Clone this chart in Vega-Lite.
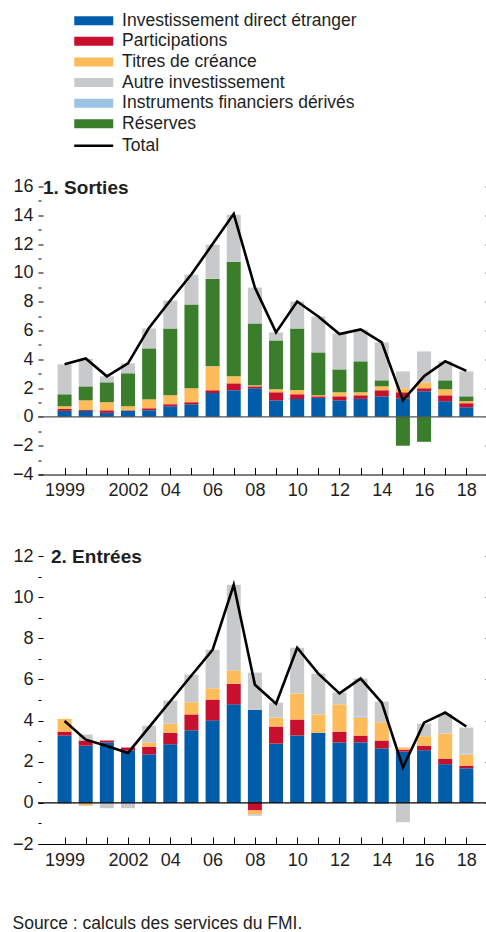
{
  "$schema": "https://vega.github.io/schema/vega-lite/v6.json",
  "padding": {"left": 12, "right": 0, "top": 11.5, "bottom": 0},
  "background": "white",
  "config": {
    "font": "Liberation Sans",
    "view": {"stroke": null},
    "axis": {"labelFont": "Liberation Sans", "labelFontSize": 18, "labelColor": "#1e1e1e", "tickColor": "black", "domainColor": "black", "grid": false},
    "legend": {"labelFont": "Liberation Sans", "labelFontSize": 17.5, "labelColor": "#1e1e1e", "labelLimit": 400, "padding": 0, "rowPadding": 1.6},
    "title": {"font": "Liberation Sans", "color": "#1e1e1e"}
  },
  "title": {"text": "Source : calculs des services du FMI.", "orient": "bottom", "anchor": "start", "frame": "bounds", "offset": 45.5, "fontSize": 17.5, "fontWeight": "normal"},
  "spacing": 47.5,
  "datasets": {
    "sortie": [
      {"year": 1999, "comp": "Investissement direct étranger", "value": 0.42},
      {"year": 1999, "comp": "Participations", "value": 0.13},
      {"year": 1999, "comp": "Titres de créance", "value": 0.19},
      {"year": 1999, "comp": "Réserves", "value": 0.83},
      {"year": 1999, "comp": "Autre investissement", "value": 2.08},
      {"year": 2000, "comp": "Investissement direct étranger", "value": 0.42},
      {"year": 2000, "comp": "Participations", "value": 0.06},
      {"year": 2000, "comp": "Titres de créance", "value": 0.67},
      {"year": 2000, "comp": "Réserves", "value": 0.97},
      {"year": 2000, "comp": "Autre investissement", "value": 1.91},
      {"year": 2001, "comp": "Investissement direct étranger", "value": 0.28},
      {"year": 2001, "comp": "Participations", "value": 0.18},
      {"year": 2001, "comp": "Titres de créance", "value": 0.56},
      {"year": 2001, "comp": "Réserves", "value": 1.38},
      {"year": 2001, "comp": "Autre investissement", "value": 0.42},
      {"year": 2002, "comp": "Investissement direct étranger", "value": 0.42},
      {"year": 2002, "comp": "Participations", "value": 0.04},
      {"year": 2002, "comp": "Titres de créance", "value": 0.28},
      {"year": 2002, "comp": "Réserves", "value": 2.29},
      {"year": 2002, "comp": "Autre investissement", "value": 0.69},
      {"year": 2003, "comp": "Investissement direct étranger", "value": 0.46},
      {"year": 2003, "comp": "Participations", "value": 0.14},
      {"year": 2003, "comp": "Titres de créance", "value": 0.62},
      {"year": 2003, "comp": "Réserves", "value": 3.54},
      {"year": 2003, "comp": "Autre investissement", "value": 1.38},
      {"year": 2004, "comp": "Investissement direct étranger", "value": 0.74},
      {"year": 2004, "comp": "Participations", "value": 0.14},
      {"year": 2004, "comp": "Titres de créance", "value": 0.62},
      {"year": 2004, "comp": "Réserves", "value": 4.64},
      {"year": 2004, "comp": "Autre investissement", "value": 1.94},
      {"year": 2005, "comp": "Investissement direct étranger", "value": 0.88},
      {"year": 2005, "comp": "Participations", "value": 0.14},
      {"year": 2005, "comp": "Titres de créance", "value": 0.97},
      {"year": 2005, "comp": "Réserves", "value": 5.82},
      {"year": 2005, "comp": "Autre investissement", "value": 2.07},
      {"year": 2006, "comp": "Investissement direct étranger", "value": 1.66},
      {"year": 2006, "comp": "Participations", "value": 0.19},
      {"year": 2006, "comp": "Titres de créance", "value": 1.66},
      {"year": 2006, "comp": "Réserves", "value": 6.09},
      {"year": 2006, "comp": "Autre investissement", "value": 2.36},
      {"year": 2007, "comp": "Investissement direct étranger", "value": 1.85},
      {"year": 2007, "comp": "Participations", "value": 0.48},
      {"year": 2007, "comp": "Titres de créance", "value": 0.49},
      {"year": 2007, "comp": "Réserves", "value": 7.96},
      {"year": 2007, "comp": "Autre investissement", "value": 3.26},
      {"year": 2008, "comp": "Investissement direct étranger", "value": 1.99},
      {"year": 2008, "comp": "Participations", "value": 0.13},
      {"year": 2008, "comp": "Titres de créance", "value": 0.07},
      {"year": 2008, "comp": "Réserves", "value": 4.3},
      {"year": 2008, "comp": "Autre investissement", "value": 2.49},
      {"year": 2009, "comp": "Investissement direct étranger", "value": 1.15},
      {"year": 2009, "comp": "Participations", "value": 0.56},
      {"year": 2009, "comp": "Titres de créance", "value": 0.21},
      {"year": 2009, "comp": "Réserves", "value": 3.39},
      {"year": 2009, "comp": "Autre investissement", "value": 0.56},
      {"year": 2010, "comp": "Investissement direct étranger", "value": 1.25},
      {"year": 2010, "comp": "Participations", "value": 0.32},
      {"year": 2010, "comp": "Titres de créance", "value": 0.3},
      {"year": 2010, "comp": "Réserves", "value": 4.27},
      {"year": 2010, "comp": "Autre investissement", "value": 1.87},
      {"year": 2011, "comp": "Investissement direct étranger", "value": 1.32},
      {"year": 2011, "comp": "Participations", "value": 0.11},
      {"year": 2011, "comp": "Titres de créance", "value": 0.07},
      {"year": 2011, "comp": "Réserves", "value": 2.98},
      {"year": 2011, "comp": "Autre investissement", "value": 2.49},
      {"year": 2012, "comp": "Investissement direct étranger", "value": 1.15},
      {"year": 2012, "comp": "Participations", "value": 0.28},
      {"year": 2012, "comp": "Titres de créance", "value": 0.28},
      {"year": 2012, "comp": "Réserves", "value": 1.59},
      {"year": 2012, "comp": "Autre investissement", "value": 2.5},
      {"year": 2013, "comp": "Investissement direct étranger", "value": 1.25},
      {"year": 2013, "comp": "Participations", "value": 0.25},
      {"year": 2013, "comp": "Titres de créance", "value": 0.21},
      {"year": 2013, "comp": "Réserves", "value": 2.15},
      {"year": 2013, "comp": "Autre investissement", "value": 2.21},
      {"year": 2014, "comp": "Investissement direct étranger", "value": 1.43},
      {"year": 2014, "comp": "Participations", "value": 0.42},
      {"year": 2014, "comp": "Titres de créance", "value": 0.27},
      {"year": 2014, "comp": "Réserves", "value": 0.42},
      {"year": 2014, "comp": "Autre investissement", "value": 2.63},
      {"year": 2015, "comp": "Investissement direct étranger", "value": 1.29},
      {"year": 2015, "comp": "Participations", "value": 0.42},
      {"year": 2015, "comp": "Titres de créance", "value": 0.28},
      {"year": 2015, "comp": "Réserves", "value": -2.0},
      {"year": 2015, "comp": "Autre investissement", "value": 1.17},
      {"year": 2016, "comp": "Investissement direct étranger", "value": 1.78},
      {"year": 2016, "comp": "Participations", "value": 0.21},
      {"year": 2016, "comp": "Titres de créance", "value": 0.41},
      {"year": 2016, "comp": "Réserves", "value": -1.73},
      {"year": 2016, "comp": "Autre investissement", "value": 2.15},
      {"year": 2017, "comp": "Investissement direct étranger", "value": 1.09},
      {"year": 2017, "comp": "Participations", "value": 0.41},
      {"year": 2017, "comp": "Titres de créance", "value": 0.42},
      {"year": 2017, "comp": "Réserves", "value": 0.62},
      {"year": 2017, "comp": "Autre investissement", "value": 1.32},
      {"year": 2018, "comp": "Investissement direct étranger", "value": 0.67},
      {"year": 2018, "comp": "Participations", "value": 0.28},
      {"year": 2018, "comp": "Titres de créance", "value": 0.14},
      {"year": 2018, "comp": "Réserves", "value": 0.34},
      {"year": 2018, "comp": "Autre investissement", "value": 1.73}
    ],
    "entree": [
      {"year": 1999, "comp": "Investissement direct étranger", "value": 3.27},
      {"year": 1999, "comp": "Participations", "value": 0.19},
      {"year": 1999, "comp": "Titres de créance", "value": 0.62},
      {"year": 1999, "comp": "Autre investissement", "value": -0.06},
      {"year": 2000, "comp": "Investissement direct étranger", "value": 2.78},
      {"year": 2000, "comp": "Participations", "value": 0.25},
      {"year": 2000, "comp": "Titres de créance", "value": -0.12},
      {"year": 2000, "comp": "Instruments financiers dérivés", "value": -0.03},
      {"year": 2000, "comp": "Autre investissement", "value": 0.29},
      {"year": 2001, "comp": "Investissement direct étranger", "value": 2.94},
      {"year": 2001, "comp": "Participations", "value": 0.09},
      {"year": 2001, "comp": "Autre investissement", "value": -0.26},
      {"year": 2002, "comp": "Investissement direct étranger", "value": 2.54},
      {"year": 2002, "comp": "Participations", "value": 0.15},
      {"year": 2002, "comp": "Instruments financiers dérivés", "value": -0.06},
      {"year": 2002, "comp": "Autre investissement", "value": -0.2},
      {"year": 2003, "comp": "Investissement direct étranger", "value": 2.36},
      {"year": 2003, "comp": "Participations", "value": 0.37},
      {"year": 2003, "comp": "Titres de créance", "value": 0.21},
      {"year": 2003, "comp": "Autre investissement", "value": 0.81},
      {"year": 2004, "comp": "Investissement direct étranger", "value": 2.85},
      {"year": 2004, "comp": "Participations", "value": 0.56},
      {"year": 2004, "comp": "Titres de créance", "value": 0.44},
      {"year": 2004, "comp": "Autre investissement", "value": 1.12},
      {"year": 2005, "comp": "Investissement direct étranger", "value": 3.53},
      {"year": 2005, "comp": "Participations", "value": 0.77},
      {"year": 2005, "comp": "Titres de créance", "value": 0.59},
      {"year": 2005, "comp": "Autre investissement", "value": 1.34},
      {"year": 2006, "comp": "Investissement direct étranger", "value": 4.01},
      {"year": 2006, "comp": "Participations", "value": 1.01},
      {"year": 2006, "comp": "Titres de créance", "value": 0.55},
      {"year": 2006, "comp": "Autre investissement", "value": 1.87},
      {"year": 2007, "comp": "Investissement direct étranger", "value": 4.79},
      {"year": 2007, "comp": "Participations", "value": 1.0},
      {"year": 2007, "comp": "Titres de créance", "value": 0.65},
      {"year": 2007, "comp": "Autre investissement", "value": 4.16},
      {"year": 2008, "comp": "Investissement direct étranger", "value": 4.53},
      {"year": 2008, "comp": "Participations", "value": -0.37},
      {"year": 2008, "comp": "Titres de créance", "value": -0.2},
      {"year": 2008, "comp": "Instruments financiers dérivés", "value": -0.05},
      {"year": 2008, "comp": "Autre investissement", "value": 1.8},
      {"year": 2009, "comp": "Investissement direct étranger", "value": 2.88},
      {"year": 2009, "comp": "Participations", "value": 0.83},
      {"year": 2009, "comp": "Titres de créance", "value": 0.43},
      {"year": 2009, "comp": "Autre investissement", "value": 0.73},
      {"year": 2010, "comp": "Investissement direct étranger", "value": 3.27},
      {"year": 2010, "comp": "Participations", "value": 0.78},
      {"year": 2010, "comp": "Titres de créance", "value": 1.26},
      {"year": 2010, "comp": "Autre investissement", "value": 2.23},
      {"year": 2011, "comp": "Investissement direct étranger", "value": 3.41},
      {"year": 2011, "comp": "Titres de créance", "value": 0.89},
      {"year": 2011, "comp": "Autre investissement", "value": 1.98},
      {"year": 2012, "comp": "Investissement direct étranger", "value": 2.94},
      {"year": 2012, "comp": "Participations", "value": 0.52},
      {"year": 2012, "comp": "Titres de créance", "value": 1.33},
      {"year": 2012, "comp": "Autre investissement", "value": 0.57},
      {"year": 2013, "comp": "Investissement direct étranger", "value": 2.94},
      {"year": 2013, "comp": "Participations", "value": 0.33},
      {"year": 2013, "comp": "Titres de créance", "value": 0.87},
      {"year": 2013, "comp": "Instruments financiers dérivés", "value": 0.05},
      {"year": 2013, "comp": "Autre investissement", "value": 1.85},
      {"year": 2014, "comp": "Investissement direct étranger", "value": 2.65},
      {"year": 2014, "comp": "Participations", "value": 0.38},
      {"year": 2014, "comp": "Titres de créance", "value": 0.89},
      {"year": 2014, "comp": "Instruments financiers dérivés", "value": -0.06},
      {"year": 2014, "comp": "Autre investissement", "value": 1.0},
      {"year": 2015, "comp": "Investissement direct étranger", "value": 2.49},
      {"year": 2015, "comp": "Participations", "value": 0.1},
      {"year": 2015, "comp": "Titres de créance", "value": 0.1},
      {"year": 2015, "comp": "Autre investissement", "value": -0.94},
      {"year": 2016, "comp": "Investissement direct étranger", "value": 2.56},
      {"year": 2016, "comp": "Participations", "value": 0.22},
      {"year": 2016, "comp": "Titres de créance", "value": 0.46},
      {"year": 2016, "comp": "Autre investissement", "value": 0.61},
      {"year": 2017, "comp": "Investissement direct étranger", "value": 1.88},
      {"year": 2017, "comp": "Participations", "value": 0.27},
      {"year": 2017, "comp": "Titres de créance", "value": 1.22},
      {"year": 2017, "comp": "Autre investissement", "value": 0.95},
      {"year": 2018, "comp": "Investissement direct étranger", "value": 1.68},
      {"year": 2018, "comp": "Participations", "value": 0.13},
      {"year": 2018, "comp": "Titres de créance", "value": 0.54},
      {"year": 2018, "comp": "Instruments financiers dérivés", "value": 0.05},
      {"year": 2018, "comp": "Autre investissement", "value": 1.26}
    ],
    "tot_s": [
      {"year": 1999, "total": 3.65}, {"year": 2000, "total": 4.06}, {"year": 2001, "total": 2.82},
      {"year": 2002, "total": 3.72}, {"year": 2003, "total": 6.2}, {"year": 2004, "total": 8.08},
      {"year": 2005, "total": 9.9}, {"year": 2006, "total": 12.0}, {"year": 2007, "total": 14.1},
      {"year": 2008, "total": 8.98}, {"year": 2009, "total": 5.87}, {"year": 2010, "total": 8.01},
      {"year": 2011, "total": 6.97}, {"year": 2012, "total": 5.75}, {"year": 2013, "total": 6.07},
      {"year": 2014, "total": 5.17}, {"year": 2015, "total": 1.15}, {"year": 2016, "total": 2.82},
      {"year": 2017, "total": 3.86}, {"year": 2018, "total": 3.2}
    ],
    "tot_e": [
      {"year": 1999, "total": 3.98}, {"year": 2000, "total": 3.07}, {"year": 2001, "total": 2.76},
      {"year": 2002, "total": 2.43}, {"year": 2003, "total": 3.68}, {"year": 2004, "total": 4.94},
      {"year": 2005, "total": 6.19}, {"year": 2006, "total": 7.44}, {"year": 2007, "total": 10.6},
      {"year": 2008, "total": 5.74}, {"year": 2009, "total": 4.82}, {"year": 2010, "total": 7.54},
      {"year": 2011, "total": 6.28}, {"year": 2012, "total": 5.32}, {"year": 2013, "total": 6.04},
      {"year": 2014, "total": 4.87}, {"year": 2015, "total": 1.72}, {"year": 2016, "total": 3.9},
      {"year": 2017, "total": 4.39}, {"year": 2018, "total": 3.71}
    ]
  },
  "vconcat": [
    {
      "width": 449,
      "height": 288,
      "title": {"text": "1. Sorties", "anchor": "start", "frame": "group", "baseline": "middle", "offset": 0, "dx": 5, "dy": 29, "fontSize": 19, "fontWeight": "bold"},
      "resolve": {"axis": {"y": "independent"}},
      "layer": [
        {
          "data": {"name": "sortie"},
          "transform": [{"calculate": "indexof(['Investissement direct étranger','Participations','Titres de créance','Instruments financiers dérivés','Réserves','Autre investissement'], datum.comp)", "as": "ordre"}],
          "mark": {"type": "bar", "width": 14},
          "encoding": {
            "x": {"field": "year", "type": "quantitative", "scale": {"domain": [1997.98, 2018.74], "nice": false, "zero": false},
              "axis": {"title": null, "values": [1999, 2000, 2001, 2002, 2003, 2004, 2005, 2006, 2007, 2008, 2009, 2010, 2011, 2012, 2013, 2014, 2015, 2016, 2017, 2018],
                "labelExpr": "datum.value == 1999 || datum.value == 2002 ? '' + datum.value : (datum.value % 2 == 0 && datum.value >= 2004 ? substring('' + datum.value, 2) : '')",
                "domain": true, "domainWidth": 1, "tickSize": -7, "tickWidth": 1, "labelPadding": 14, "labelFlush": false, "labelOverlap": false, "grid": false}},
            "y": {"field": "value", "type": "quantitative", "stack": "zero", "scale": {"domain": [-4, 16], "nice": false},
              "axis": {"title": null, "values": [-4, -3, -2, -1, 0, 1, 2, 3, 4, 5, 6, 7, 8, 9, 10, 11, 12, 13, 14, 15, 16],
                "labelExpr": "datum.value % 2 === 0 ? datum.label : ''", "domain": false, "grid": false,
                "tickSize": {"condition": {"test": "datum.value % 2 === 0", "value": -5}, "value": -3},
                "tickWidth": 1, "labelPadding": 10, "labelOverlap": false}},
            "order": {"field": "ordre", "type": "quantitative", "sort": "ascending"},
            "fill": {"field": "comp", "type": "nominal",
              "scale": {"domain": ["Investissement direct étranger", "Participations", "Titres de créance", "Autre investissement", "Instruments financiers dérivés", "Réserves"],
                "range": ["#005DAA", "#C8102E", "#FDBB5A", "#C8C9CB", "#9CC3E5", "#3A7D2B"]},
              "legend": {"orient": "none", "legendX": 47, "legendY": -174.5, "title": null, "symbolType": "M-4,-0.92H4V0.92H-4Z", "symbolSize": 95, "symbolStrokeWidth": 0, "labelOffset": 19.6}}
          }
        },
        {
          "data": {"values": [{}]},
          "mark": {"type": "rule", "color": "#555555", "strokeWidth": 1.3},
          "encoding": {"y": {"datum": 0, "type": "quantitative",
            "axis": {"orient": "right", "title": null, "values": [-4, -2, 0, 2, 4, 6, 8, 10, 12, 14, 16], "labels": false, "domain": false, "grid": false, "tickSize": -2}}}
        },
        {
          "data": {"name": "tot_s"},
          "mark": {"type": "line", "strokeWidth": 2.6},
          "encoding": {
            "x": {"field": "year", "type": "quantitative",
              "axis": {"title": null, "values": [1999, 2000, 2001, 2002, 2003, 2004, 2005, 2006, 2007, 2008, 2009, 2010, 2011, 2012, 2013, 2014, 2015, 2016, 2017, 2018],
                "labelExpr": "datum.value == 1999 || datum.value == 2002 ? '' + datum.value : (datum.value % 2 == 0 && datum.value >= 2004 ? substring('' + datum.value, 2) : '')",
                "domain": true, "domainWidth": 1, "tickSize": -7, "tickWidth": 1, "labelPadding": 14, "labelFlush": false, "labelOverlap": false, "grid": false}},
            "y": {"field": "total", "type": "quantitative", "axis": null},
            "stroke": {"datum": "Total", "scale": {"range": ["black"]},
              "legend": {"orient": "none", "legendX": 47, "legendY": -49.5, "title": null, "symbolType": "M-4,0H4", "symbolSize": 95, "symbolStrokeWidth": 2.6, "labelOffset": 19.6}}
          }
        }
      ]
    },
    {
      "width": 449,
      "height": 288,
      "title": {"text": "2. Entrées", "anchor": "start", "frame": "group", "baseline": "middle", "offset": 0, "dx": 13, "dy": 29, "fontSize": 19, "fontWeight": "bold"},
      "resolve": {"axis": {"y": "independent"}},
      "layer": [
        {
          "data": {"name": "entree"},
          "transform": [{"calculate": "indexof(['Investissement direct étranger','Participations','Titres de créance','Instruments financiers dérivés','Réserves','Autre investissement'], datum.comp)", "as": "ordre"}],
          "mark": {"type": "bar", "width": 14},
          "encoding": {
            "x": {"field": "year", "type": "quantitative", "scale": {"domain": [1997.98, 2018.74], "nice": false, "zero": false},
              "axis": {"title": null, "values": [1999, 2000, 2001, 2002, 2003, 2004, 2005, 2006, 2007, 2008, 2009, 2010, 2011, 2012, 2013, 2014, 2015, 2016, 2017, 2018],
                "labelExpr": "datum.value == 1999 || datum.value == 2002 ? '' + datum.value : (datum.value % 2 == 0 && datum.value >= 2004 ? substring('' + datum.value, 2) : '')",
                "domain": true, "domainWidth": 1, "tickSize": -7, "tickWidth": 1, "labelPadding": 14, "labelFlush": false, "labelOverlap": false, "grid": false}},
            "y": {"field": "value", "type": "quantitative", "stack": "zero", "scale": {"domain": [-2, 12], "nice": false},
              "axis": {"title": null, "values": [-2, -1, 0, 1, 2, 3, 4, 5, 6, 7, 8, 9, 10, 11, 12],
                "labelExpr": "datum.value % 2 === 0 ? datum.label : ''", "domain": false, "grid": false,
                "tickSize": {"condition": {"test": "datum.value % 2 === 0", "value": -5}, "value": -3},
                "tickWidth": 1, "labelPadding": 10, "labelOverlap": false}},
            "order": {"field": "ordre", "type": "quantitative", "sort": "ascending"},
            "fill": {"field": "comp", "type": "nominal",
              "scale": {"domain": ["Investissement direct étranger", "Participations", "Titres de créance", "Autre investissement", "Instruments financiers dérivés", "Réserves"],
                "range": ["#005DAA", "#C8102E", "#FDBB5A", "#C8C9CB", "#9CC3E5", "#3A7D2B"]},
              "legend": {"orient": "none", "legendX": 47, "legendY": -174.5, "title": null, "symbolType": "M-4,-0.92H4V0.92H-4Z", "symbolSize": 95, "symbolStrokeWidth": 0, "labelOffset": 19.6}}
          }
        },
        {
          "data": {"values": [{}]},
          "mark": {"type": "rule", "color": "black", "strokeWidth": 1.3},
          "encoding": {"y": {"datum": 0, "type": "quantitative",
            "axis": {"orient": "right", "title": null, "values": [-2, 0, 2, 4, 6, 8, 10, 12], "labels": false, "domain": false, "grid": false, "tickSize": -2}}}
        },
        {
          "data": {"name": "tot_e"},
          "mark": {"type": "line", "strokeWidth": 2.6},
          "encoding": {
            "x": {"field": "year", "type": "quantitative",
              "axis": {"title": null, "values": [1999, 2000, 2001, 2002, 2003, 2004, 2005, 2006, 2007, 2008, 2009, 2010, 2011, 2012, 2013, 2014, 2015, 2016, 2017, 2018],
                "labelExpr": "datum.value == 1999 || datum.value == 2002 ? '' + datum.value : (datum.value % 2 == 0 && datum.value >= 2004 ? substring('' + datum.value, 2) : '')",
                "domain": true, "domainWidth": 1, "tickSize": -7, "tickWidth": 1, "labelPadding": 14, "labelFlush": false, "labelOverlap": false, "grid": false}},
            "y": {"field": "total", "type": "quantitative", "axis": null},
            "stroke": {"datum": "Total", "scale": {"range": ["black"]},
              "legend": {"orient": "none", "legendX": 47, "legendY": -49.5, "title": null, "symbolType": "M-4,0H4", "symbolSize": 95, "symbolStrokeWidth": 2.6, "labelOffset": 19.6}}
          }
        }
      ]
    }
  ]
}
